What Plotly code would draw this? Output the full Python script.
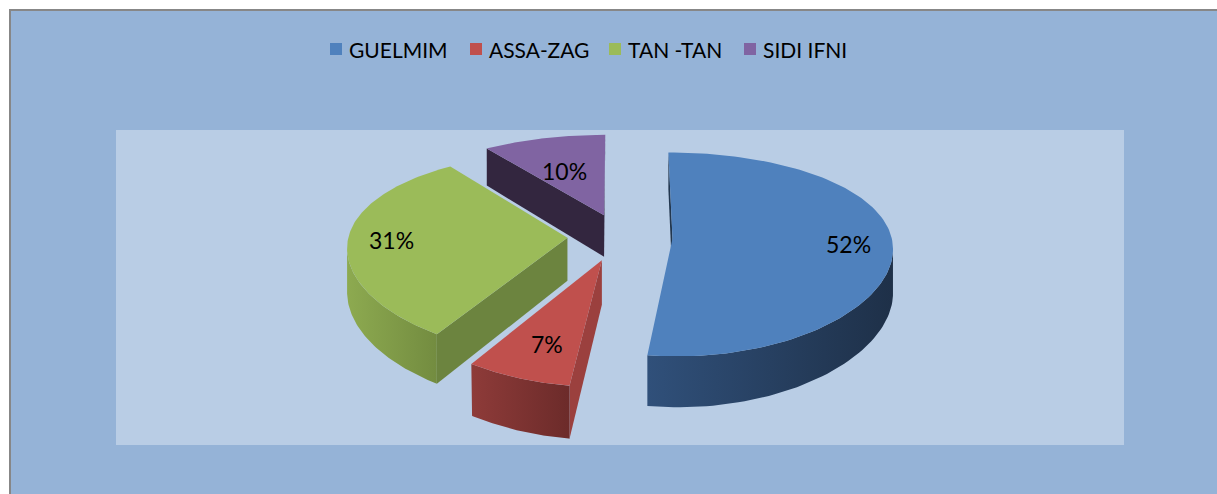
import numpy as np
import plotly.graph_objects as go

# Share of each province (percent)
regions = ["GUELMIM", "ASSA-ZAG", "TAN -TAN", "SIDI IFNI"]
shares = [52, 7, 31, 10]

# Styling per slice
top_colors = ["#4F81BD", "#C0504D", "#9BBB59", "#8064A2"]
rim_colors = [("#30507A", "#1E3048"), ("#8E3B39", "#6C2B2A"),
              ("#8DAA50", "#738C40"), ("#3A2C48", "#2E2239")]
cut_colors = ["#22374F", "#9B403E", "#6C843F", "#33263F"]

W, H = 1217, 494

# 3D pie geometry (pixel space)
CX, CY = 620, 237        # centre of the undisplaced pie top
RX, RY = 219, 99         # semi axes of the top ellipse
DEPTH = 43               # thickness of the pie
PX, PY = 0.085, 0.155    # perspective strength, horizontal / vertical
EXPLODE = 0.24           # slice pull-out, fraction of radius
CAM = (0.0, -1.0 / PX)


def project(X, Z, low=0.0):
    X = np.asarray(X, dtype=float)
    Z = np.asarray(Z, dtype=float)
    sx = 1.0 / (1.0 + PX * Z)
    sy = 1.0 / (1.0 + PY * Z)
    return CX + RX * X * sx, CY + (-RY * Z + DEPTH * low) * sy


def runs(mask):
    out, start = [], None
    for i, m in enumerate(mask):
        if m and start is None:
            start = i
        if not m and start is not None:
            out.append((start, i))
            start = None
    if start is not None:
        out.append((start, len(mask)))
    return out


def centroid(xs, ys):
    a = xs[:-1] * ys[1:] - xs[1:] * ys[:-1]
    area = a.sum() / 2
    return ((xs[:-1] + xs[1:]) * a).sum() / (6 * area), \
           ((ys[:-1] + ys[1:]) * a).sum() / (6 * area)


fig = go.Figure()

total = float(sum(shares))
bounds = np.concatenate([[0.0], np.cumsum(shares) / total * 360.0])

walls = []   # (depth key, xs, ys, trace kwargs)
tops = []
labels = []

for i, (name, val) in enumerate(zip(regions, shares)):
    t1, t2 = bounds[i], bounds[i + 1]
    tm = np.radians((t1 + t2) / 2)
    ox, oz = EXPLODE * np.sin(tm), EXPLODE * np.cos(tm)

    th = np.radians(np.linspace(t1, t2, 120))
    rx = ox + np.sin(th)
    rz = oz + np.cos(th)

    # top face
    tx, ty = project(np.r_[ox, rx, ox], np.r_[oz, rz, oz])
    tops.append((tx, ty, top_colors[i]))

    # outer curved wall, the part that faces the camera
    vis = (CAM[0] - rx) * np.sin(th) + (CAM[1] - rz) * np.cos(th) > 0
    for a, b in runs(vis):
        ux, uy = project(rx[a:b], rz[a:b], 0)
        lx, ly = project(rx[a:b], rz[a:b], 1)
        xs = np.r_[ux, lx[::-1], ux[:1]]
        ys = np.r_[uy, ly[::-1], uy[:1]]
        walls.append((float(np.mean(rz[a:b])), xs, ys,
                      dict(fillcolor=rim_colors[i][0],
                           fillgradient=dict(type="horizontal",
                                             colorscale=[[0, rim_colors[i][0]],
                                                         [1, rim_colors[i][1]]]))))

    # radial cut faces
    for ang, nx, nz in ((t1, -np.cos(np.radians(t1)), np.sin(np.radians(t1))),
                        (t2, np.cos(np.radians(t2)), -np.sin(np.radians(t2)))):
        if (CAM[0] - ox) * nx + (CAM[1] - oz) * nz <= 1e-6:
            continue
        ex = ox + np.sin(np.radians(ang))
        ez = oz + np.cos(np.radians(ang))
        xs, ys = [], []
        for Xi, Zi, Li in zip([ox, ex, ex, ox, ox], [oz, ez, ez, oz, oz],
                              [0, 0, 1, 1, 0]):
            px, py = project(Xi, Zi, Li)
            xs.append(float(px))
            ys.append(float(py))
        walls.append(((oz + ez) / 2, np.array(xs), np.array(ys),
                      dict(fillcolor=cut_colors[i])))

    # percentage label: centred in narrow slices, near the rim in wide ones
    if val < 15:
        lx, ly = centroid(tx, ty)
        ly += 6
    else:
        r = 0.8
        lx, ly = project(ox + r * np.sin(tm), oz + r * np.cos(tm))
    labels.append((float(lx), float(ly), f"{val}%"))

# walls from back to front, then the top faces
for _, xs, ys, kw in sorted(walls, key=lambda w: -w[0]):
    fig.add_trace(go.Scatter(x=xs, y=ys, mode="lines", fill="toself",
                             line=dict(width=0), hoverinfo="skip",
                             showlegend=False, **kw))
for tx, ty, col in tops:
    fig.add_trace(go.Scatter(x=tx, y=ty, mode="lines", fill="toself",
                             fillcolor=col, line=dict(width=0, color=col),
                             hoverinfo="skip", showlegend=False))

annotations = []
for lx, ly, txt in labels:
    annotations.append(dict(x=lx, y=ly, xref="x", yref="y", text=txt,
                            showarrow=False,
                            font=dict(family="Lato, Carlito, sans-serif",
                                      size=23, color="#000000")))

# legend row
legend_x = [336, 476, 615, 750]
legend_y = 49
for name, col, lxp in zip(regions, top_colors, legend_x):
    fig.add_trace(go.Scatter(x=[lxp], y=[legend_y], mode="markers",
                             marker=dict(symbol="square", size=12, color=col,
                                         line=dict(width=0)),
                             hoverinfo="skip", showlegend=False))
    annotations.append(dict(x=lxp + 11, y=legend_y, xref="x", yref="y",
                            text=name, showarrow=False, xanchor="left",
                            font=dict(family="Lato, Carlito, sans-serif",
                                      size=21, color="#000000")))

shapes = [
    dict(type="rect", xref="x", yref="y", x0=10, y0=10, x1=W + 20, y1=H + 20,
         fillcolor="#95B3D7", line=dict(color="#878787", width=2), layer="below"),
    dict(type="rect", xref="x", yref="y", x0=116, y0=130, x1=1124, y1=445,
         fillcolor="#B9CDE5", line=dict(width=0), layer="below"),
]

fig.update_layout(
    width=W, height=H, autosize=False,
    margin=dict(l=0, r=0, t=0, b=0, pad=0),
    paper_bgcolor="#FFFFFF", plot_bgcolor="#FFFFFF",
    xaxis=dict(range=[0, W], visible=False, fixedrange=True),
    yaxis=dict(range=[H, 0], visible=False, fixedrange=True),
    shapes=shapes, annotations=annotations, showlegend=False,
)

fig.write_html("out.html")
